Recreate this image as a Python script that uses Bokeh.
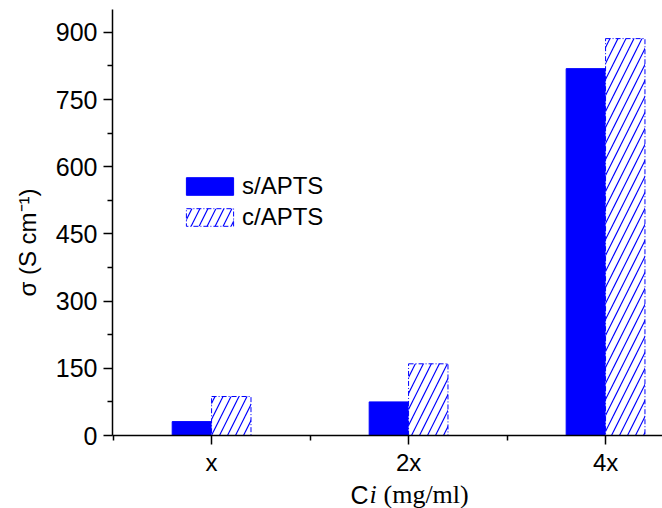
import numpy as np
from bokeh.plotting import figure
from bokeh.layouts import column
from bokeh.models import Range1d, FixedTicker, Legend, LegendItem
from bokeh.core.properties import value
from bokeh.embed import file_html
from bokeh.resources import INLINE

categories = ["x", "2x", "4x"]
s_apts = [31, 75, 819]
c_apts = [87, 160, 886]
y_ticks = [0, 150, 300, 450, 600, 750, 900]
y_minor = [75, 225, 375, 525, 675, 825]

X0, X1 = -0.503, 2.289
Y0, Y1 = 0, 951

idx = np.arange(len(categories))
bw = 0.2

W, H = 662, 508
XL_H = 30      # height of x-label strip
MAIN_H = H - XL_H
FRAME_LEFT = 112

p = figure(width=W, height=MAIN_H, output_backend="svg", toolbar_location=None,
           x_range=Range1d(X0, X1), y_range=Range1d(Y0, Y1),
           min_border_left=FRAME_LEFT, min_border_right=0, min_border_top=9,
           min_border_bottom=MAIN_H - 438)
p.outline_line_color = None
p.xgrid.visible = False
p.ygrid.visible = False

r1 = p.vbar(x=idx - bw / 2, top=s_apts, width=bw, fill_color="#0000FF",
            line_color="#0000FF")
r2 = p.vbar(x=idx + bw / 2, top=c_apts, width=bw, fill_color="white",
            line_color="#0000FF", line_dash="5 2 1 2", line_width=1,
            hatch_pattern="/", hatch_color="#0000FF", hatch_scale=16,
            hatch_weight=1.2)

for ax in (p.xaxis[0], p.yaxis[0]):
    ax.axis_line_width = 1.5
    ax.axis_line_color = "black"
    ax.major_tick_line_width = 1.5
    ax.minor_tick_line_width = 1.5
    ax.major_tick_in = 0
    ax.major_tick_out = 9
    ax.minor_tick_in = 0
    ax.minor_tick_out = 5
    ax.major_label_text_font = "Liberation Sans"
    ax.major_label_text_color = "black"

p.yaxis.major_label_text_font_size = "25px"
p.xaxis.major_label_text_font_size = "24px"
p.yaxis.ticker = FixedTicker(ticks=y_ticks, minor_ticks=y_minor)
p.yaxis.major_label_standoff = 6
p.xaxis.ticker = FixedTicker(ticks=list(idx), minor_ticks=list(np.arange(-0.5, 3, 1.0)))
p.xaxis.major_label_overrides = {int(i): c for i, c in zip(idx, categories)}
p.xaxis.major_label_standoff = 4

p.yaxis.axis_label = "σ (S cm⁻¹)" + "\u00a0" * 6
p.yaxis.axis_label_text_font = "Liberation Sans"
p.yaxis.axis_label_text_font_size = "24px"
p.yaxis.axis_label_text_font_style = "normal"
p.yaxis.axis_label_text_color = "black"
p.yaxis.axis_label_standoff = 12

legend = Legend(items=[LegendItem(label="s/APTS", renderers=[r1]),
                       LegendItem(label="c/APTS", renderers=[r2])],
                location=(68, 204), padding=0, margin=0,
                border_line_color=None, background_fill_alpha=0,
                glyph_width=59, glyph_height=22, label_height=18,
                spacing=3, label_standoff=3,
                label_text_font="Liberation Sans", label_text_font_size="24px",
                label_text_color="black")
p.add_layout(legend)

# x-axis label strip: "Ci (mg/ml)" with mixed fonts.
# Its frame is aligned with the main frame (page x 112..662).
xl = figure(width=W, height=XL_H, output_backend="svg", toolbar_location=None,
            x_range=Range1d(FRAME_LEFT, W), y_range=Range1d(0, XL_H),
            min_border=0, x_axis_type=None, y_axis_type=None)
xl.outline_line_color = None
xl.xgrid.visible = False
xl.ygrid.visible = False


def put(f, text, x, y, size, font="Liberation Sans", style="normal"):
    f.text(x=[x], y=[y], text=[text],
           text_font=value(font), text_font_size=value(size),
           text_font_style=style, text_color="black",
           text_align="left", text_baseline="alphabetic")


BASE = 14
put(xl, "C", 350, BASE, "25px")
put(xl, "i", 369, BASE, "26px", font="Liberation Serif", style="italic")
put(xl, "(mg/ml)", 383, BASE, "26px", font="Liberation Serif")

layout = column(p, xl, spacing=0)
open("out.html", "w").write(file_html(layout, INLINE))
